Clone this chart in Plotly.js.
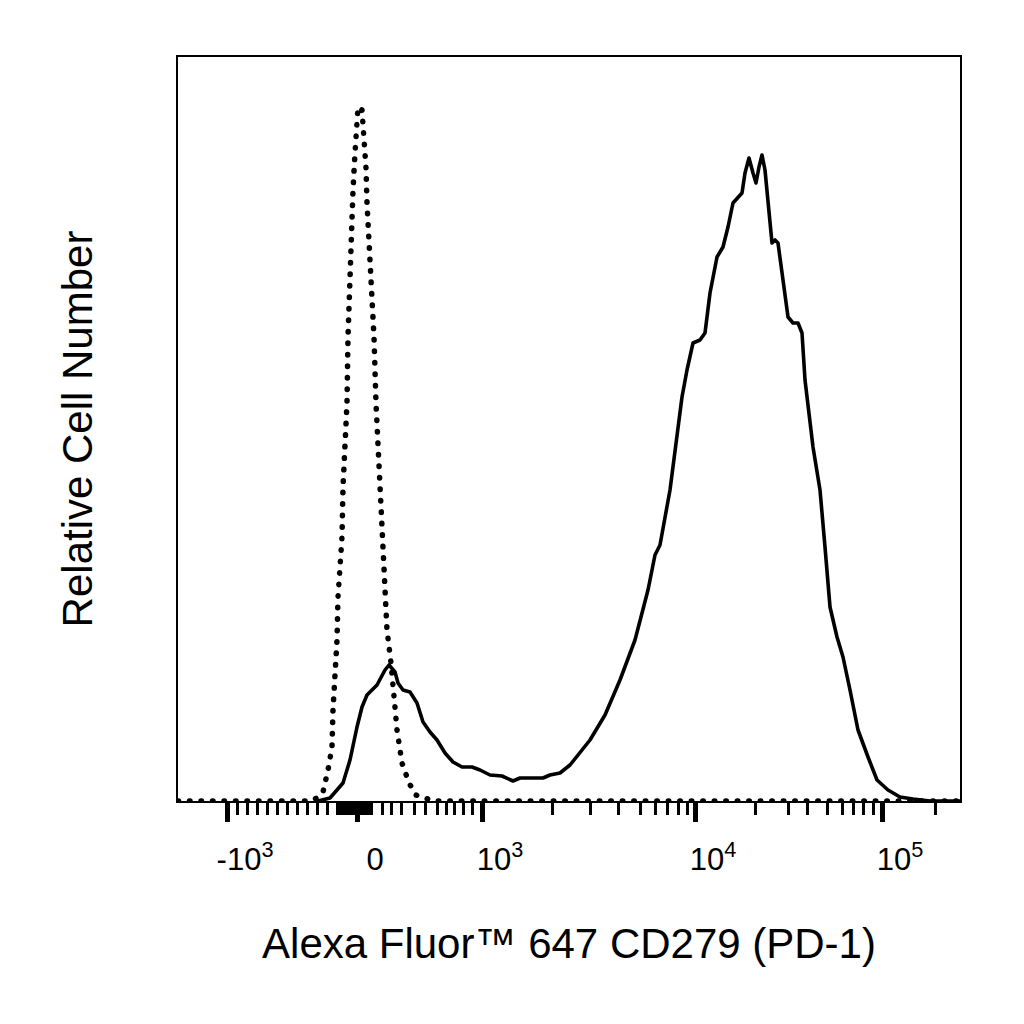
<!DOCTYPE html>
<html>
<head>
<meta charset="utf-8">
<script src="https://cdn.plot.ly/plotly-3.0.1.min.js"></script>
<style>
  html, body { margin: 0; padding: 0; background: #fff; }
  #chart { width: 1024px; height: 1024px; }
  .scatterlayer .js-line { stroke-linecap: round; stroke-linejoin: round; }
</style>
</head>
<body>
<div id="chart"></div>
<script>
// x values are display channels of the biexponential axis; y values are relative counts
const stainedX = [140,152,165,172,179,184,189,199,207,211,217,220,225,232,239,245,252,259,267,275,284,294,302,312,324,335,342,365,372,382,392,402,412,427,442,457,470,477,482,492,504,509,515,522,527,532,539,545,550,555,559,564,567,571,575,578,581,584,587,589,592,594,597,600,605,610,615,620,624,627,635,642,647,652,659,665,672,680,690,699,710,722,735,752,782];
const stainedY = [0,3,18,41,74,94,106,116,131,136,129,118,111,109,98,79,69,61,48,39,34,34,31,26,25,20,23,23,26,28,36,48,61,86,121,161,211,246,256,311,404,431,458,461,468,508,544,554,574,598,603,608,628,643,628,618,634,646,631,611,578,558,561,558,521,484,478,478,468,421,354,311,254,194,164,144,111,71,44,21,11,4,2,0,0];

const controlX = [0,132,139,145,150,154,155,157,159,160,164,165,167,169,170,172,174,175,177,179,180,184,186,188,189,191,193,196,198,200,203,204,207,209,213,216,219,224,231,238,246,256,782];
const controlY = [0,0,3,9,31,54,91,121,161,204,264,314,364,398,464,531,578,611,648,681,694,691,668,633,598,564,528,464,398,354,298,264,221,171,138,104,71,38,18,6,3,0,0];

// axis ticks (display channels)
const majorTickVals = [49,179,304,517,704];
const majorTickText = ['-10<sup>3</sup>', '0', '10<sup>3</sup>', '10<sup>4</sup>', '10<sup>5</sup>'];
const minorTickVals = [59,69,79,89,99,109,119,129,139,149,
  159,161,163,165,167,169,171,173,175,177,181,183,185,187,189,191,193,
  204,213,223,236,247,259,268,276,285,294,
  374,412,440,462,477,489,500,509,
  577,610,629,649,664,675,685,695,757];

const xTitle = 'Alexa Fluor™ 647 CD279 (PD-1)';
const yTitle = 'Relative Cell Number';

const font = 'Liberation Sans, Arial, Helvetica, sans-serif';

const traces = [
  { x: stainedX, y: stainedY, type: 'scatter', mode: 'lines',
    line: { color: '#000', width: 3.6, shape: 'linear' }, hoverinfo: 'skip', showlegend: false },
  { x: controlX, y: controlY, type: 'scatter', mode: 'lines',
    line: { color: '#000', width: 5.5, dash: '0.5px,11px' }, hoverinfo: 'skip', showlegend: false }
];

const layout = {
  width: 1024, height: 1024, autosize: false,
  paper_bgcolor: '#fff', plot_bgcolor: '#fff',
  margin: { l: 178, r: 64, t: 57, b: 223 },
  showlegend: false,
  font: { family: font, color: '#000' },
  xaxis: {
    range: [0, 782], showgrid: false, zeroline: false,
    showline: true, linecolor: '#000', linewidth: 2, mirror: true,
    ticks: 'outside', ticklen: 19, tickwidth: 5, tickcolor: '#000',
    tickmode: 'array', tickvals: majorTickVals, ticktext: majorTickText,
    tickfont: { size: 31, family: font, color: '#000' },
    ticklabelshift: 18, ticklabelstandoff: 11,
    minor: { tickmode: 'array', tickvals: minorTickVals, ticks: 'outside', ticklen: 12, tickwidth: 3, tickcolor: '#000', showgrid: false },
    title: { text: xTitle, font: { size: 42, family: font, color: '#000' }, standoff: 52 },
    automargin: true, fixedrange: true
  },
  yaxis: {
    range: [0, 744], showgrid: false, zeroline: false,
    showline: true, linecolor: '#000', linewidth: 2, mirror: true,
    ticks: '', showticklabels: false,
    title: { text: yTitle, font: { size: 42, family: font, color: '#000' }, standoff: 70 },
    automargin: true, fixedrange: true
  }
};

Plotly.newPlot('chart', traces, layout, { staticPlot: true, displayModeBar: false });
</script>
</body>
</html>
